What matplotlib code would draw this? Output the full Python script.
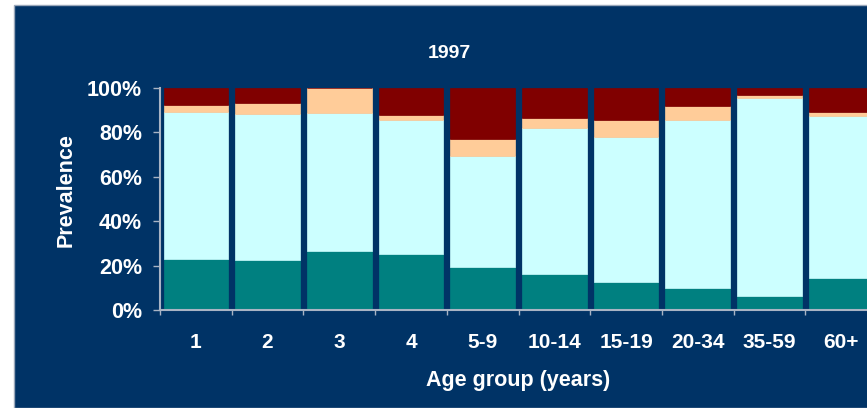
import matplotlib
matplotlib.use("Agg")
import matplotlib.pyplot as plt
import numpy as np
from matplotlib.patches import Rectangle
from matplotlib.ticker import FuncFormatter

# Prevalence by age group, 1997 (percent, stacked bottom to top)
age_groups = ["1", "2", "3", "4", "5-9", "10-14", "15-19", "20-34", "35-59", "60+"]
teal_vals = [23.0, 22.5, 26.7, 25.4, 19.4, 16.0, 12.4, 9.8, 6.4, 14.2]
cyan_vals = [66.2, 65.8, 61.9, 60.3, 50.1, 65.8, 65.6, 75.6, 89.2, 73.1]
peach_vals = [3.1, 4.9, 11.4, 2.1, 7.5, 4.8, 7.8, 6.7, 1.2, 1.9]
red_vals = [7.7, 6.8, 0.0, 12.2, 23.0, 13.4, 14.2, 7.9, 3.2, 10.8]

NAVY = "#003366"
SPINE = "#A9B4C4"
colors = ["#008080", "#CCFFFF", "#FFCC99", "#800000"]

plt.rcParams["font.family"] = ["Liberation Sans", "DejaVu Sans"]
plt.rcParams["font.weight"] = "bold"

fig = plt.figure(figsize=(8.67, 4.08), dpi=100, facecolor="white")

# navy panel with a thin grey frame
fig.patches.append(Rectangle((14 / 867, 0), 1, 1 - 5 / 408, transform=fig.transFigure,
                             facecolor=NAVY, edgecolor="#9AA8BA", linewidth=1, zorder=-10))

ax = fig.add_axes([160 / 867, 98 / 408, 717 / 867, 222 / 408])
ax.patch.set_alpha(0)

x = np.arange(len(age_groups))
bottom = np.zeros(len(age_groups))
for vals, c in zip([teal_vals, cyan_vals, peach_vals, red_vals], colors):
    vals = np.array(vals)
    ax.bar(x, vals, 0.9, bottom=bottom, color=c, edgecolor=c, linewidth=0.5, zorder=2)
    bottom += vals

ax.set_xlim(-0.5, len(age_groups) - 0.5)
ax.set_ylim(0, 100)
ax.set_yticks(np.arange(0, 101, 20))
ax.yaxis.set_major_formatter(FuncFormatter(lambda v, p: f"{v:.0f}%"))

ax.set_xticks(x)
ax.set_xticklabels(age_groups)
ax.set_xticks(np.arange(-0.5, len(age_groups), 1), minor=True)
ax.tick_params(axis="x", which="major", length=0, pad=16.5, labelsize=15, labelcolor="white")
ax.tick_params(axis="x", which="minor", length=3.6, color=SPINE, width=1)
ax.tick_params(axis="y", length=5, color=SPINE, width=1, pad=8, labelsize=15.5,
               labelcolor="white")

for side in ["top", "right"]:
    ax.spines[side].set_visible(False)
for side in ["left", "bottom"]:
    ax.spines[side].set_color(SPINE)
    ax.spines[side].set_linewidth(1.5)
    ax.spines[side].set_zorder(3)

ax.set_xlabel("Age group (years)", color="white", fontsize=15.5, fontweight="bold")
ax.xaxis.set_label_coords(0.499, -0.27)
ax.set_ylabel("Prevalence", color="white", fontsize=15.5, fontweight="bold")
ax.yaxis.set_label_coords(-0.116, 0.54)
fig.text(449 / 867, 1 - 54 / 408, "1997", color="white", fontsize=14, fontweight="bold",
         ha="center", va="center")

fig.savefig("out.png", dpi=100, facecolor="white")
